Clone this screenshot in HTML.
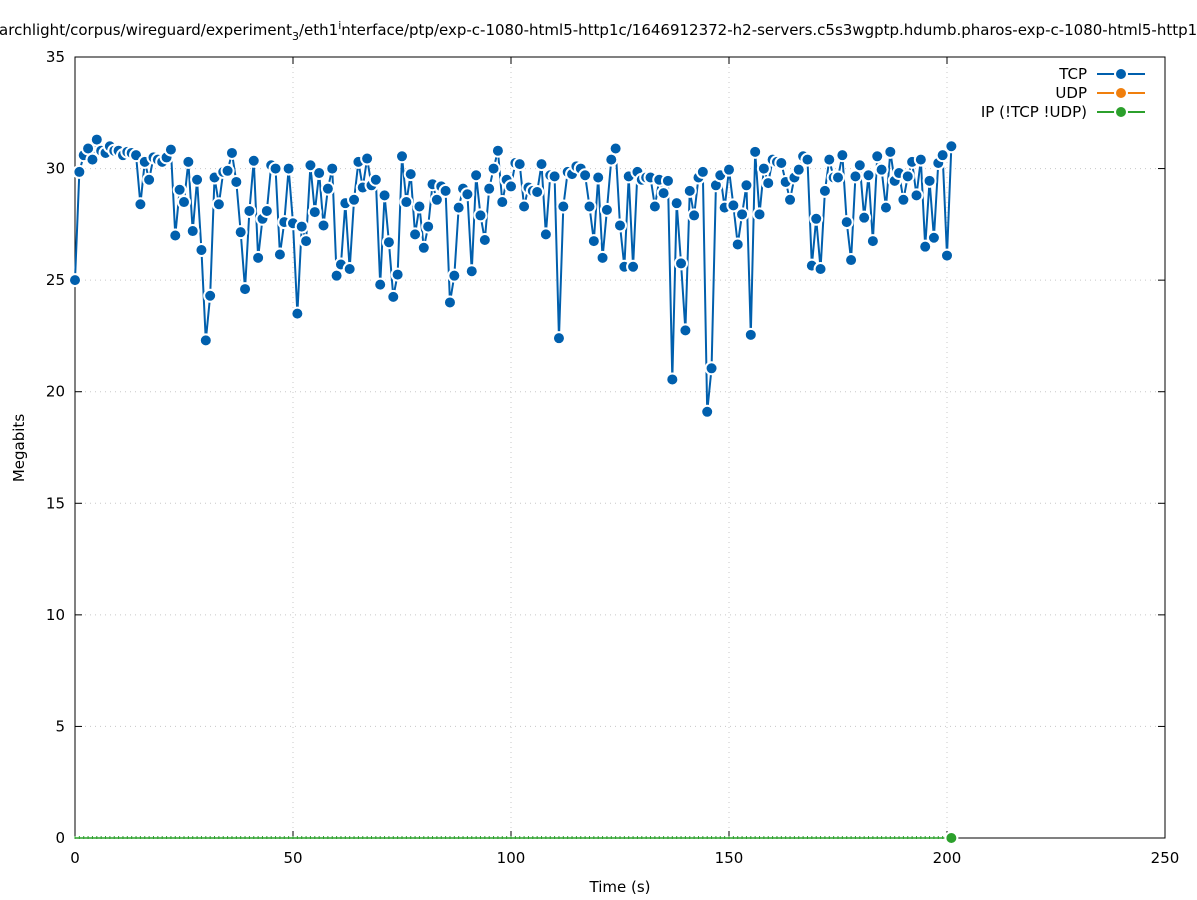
<!DOCTYPE html>
<html><head><meta charset="utf-8"><style>
html,body{margin:0;padding:0;background:#fff}
svg{display:block;font-family:"DejaVu Sans","Liberation Sans",sans-serif}
</style></head><body>
<svg id="chart" width="1197" height="900" viewBox="0 0 1197 900">
<rect width="1197" height="900" fill="#fff"/>
<text x="-18" y="35" font-size="15" fill="#000">searchlight/corpus/wireguard/experiment<tspan font-size="11" dy="5">3</tspan><tspan dy="-5">/eth1</tspan><tspan font-size="11" dy="-6">i</tspan><tspan dy="6">nterface/ptp/exp-c-1080-html5-http1c/1646912372-h2-servers.c5s3wgptp.hdumb.pharos-exp-c-1080-html5-http1c</tspan></text>
<g id="grid"></g>
<g id="axes"></g>
<g id="series"></g>
<text x="620" y="892" font-size="15" text-anchor="middle">Time (s)</text>
<text x="24" y="448" font-size="15" text-anchor="middle" transform="rotate(-90 24 448)">Megabits</text>
<g id="legend"></g>
</svg>
<script>
const xTicks=[0,50,100,150,200,250];
const yTicks=[0,5,10,15,20,25,30,35];
const tcpValues=[25.0,29.85,30.6,30.9,30.4,31.3,30.8,30.7,31.0,30.8,30.8,30.6,30.75,30.7,30.6,28.4,30.3,29.5,30.5,30.4,
30.3,30.5,30.85,27.0,29.05,28.5,30.3,27.2,29.5,26.35,22.3,24.3,29.6,28.4,29.85,29.9,30.7,29.4,27.15,24.6,
28.1,30.35,26.0,27.75,28.1,30.15,30.0,26.15,27.6,30.0,27.55,23.5,27.4,26.75,30.15,28.05,29.8,27.45,29.1,30.0,
25.2,25.7,28.45,25.5,28.6,30.3,29.15,30.45,29.25,29.5,24.8,28.8,26.7,24.25,25.25,30.55,28.5,29.75,27.05,28.3,
26.45,27.4,29.3,28.6,29.2,29.0,24.0,25.2,28.25,29.1,28.85,25.4,29.7,27.9,26.8,29.1,30.0,30.8,28.5,29.5,
29.2,30.25,30.2,28.3,29.15,29.0,28.95,30.2,27.05,29.7,29.65,22.4,28.3,29.85,29.75,30.1,30.0,29.7,28.3,26.75,
29.6,26.0,28.15,30.4,30.9,27.45,25.6,29.65,25.6,29.85,29.5,29.6,29.6,28.3,29.5,28.9,29.45,20.55,28.45,25.75,
22.75,29.0,27.9,29.6,29.85,19.1,21.05,29.25,29.7,28.25,29.95,28.35,26.6,27.95,29.25,22.55,30.75,27.95,30.0,29.35,
30.4,30.3,30.25,29.4,28.6,29.6,29.95,30.55,30.4,25.65,27.75,25.5,29.0,30.4,29.6,29.6,30.6,27.6,25.9,29.65,
30.15,27.8,29.7,26.75,30.55,29.95,28.25,30.75,29.45,29.8,28.6,29.65,30.3,28.8,30.4,26.5,29.45,26.9,30.25,30.6,26.1,31.0];
const ipValues=new Array(tcpValues.length).fill(0);
const seriesNames=["TCP","UDP","IP (!TCP  !UDP)"];
const seriesColors=["#005fad","#f07f0d","#2ca02c"];
const X0=75,X1=1165,Y0=838,Y1=57;
const sx=v=>X0+(v-0)/(250-0)*(X1-X0);
const sy=v=>Y0-(v-0)/(35-0)*(Y0-Y1);
const NS="http://www.w3.org/2000/svg";
function mk(parent,tag,attrs){const e=document.createElementNS(NS,tag);for(const k in attrs)e.setAttribute(k,attrs[k]);parent.appendChild(e);return e;}
const grid=document.getElementById('grid'),axes=document.getElementById('axes'),ser=document.getElementById('series'),leg=document.getElementById('legend');
xTicks.forEach(t=>{
  if(t>0&&t<250){const g=mk(grid,'line',{x1:sx(t),x2:sx(t),y1:Y1,y2:Y0,stroke:'#c8c8c8','stroke-dasharray':'1,4'});
  
  }
  mk(axes,'line',{x1:sx(t),x2:sx(t),y1:Y0,y2:Y0-7,stroke:'#000'});
  mk(axes,'line',{x1:sx(t),x2:sx(t),y1:Y1,y2:Y1+7,stroke:'#000'});
  const l=mk(axes,'text',{x:sx(t),y:Y0+25,'font-size':15,'text-anchor':'middle'});l.textContent=t;
  
  
});
yTicks.forEach(t=>{
  if(t>0&&t<35){const g=mk(grid,'line',{x1:X0,x2:X1,y1:sy(t),y2:sy(t),stroke:'#c8c8c8','stroke-dasharray':'1,4'});
  
  }
  mk(axes,'line',{x1:X0,x2:X0+7,y1:sy(t),y2:sy(t),stroke:'#000'});
  mk(axes,'line',{x1:X1,x2:X1-7,y1:sy(t),y2:sy(t),stroke:'#000'});
  const l=mk(axes,'text',{x:X0-10,y:sy(t)+5,'font-size':15,'text-anchor':'end'});l.textContent=t;
  
  
});
const frame=mk(axes,'rect',{x:X0,y:Y1,width:X1-X0,height:Y0-Y1,fill:'none',stroke:'#000'});


const ipPts=ipValues.map((v,i)=>sx(i)+','+sy(v)).join(' ');
const ipl=mk(ser,'polyline',{points:ipPts,fill:'none',stroke:seriesColors[2],'stroke-width':1.5});


ipValues.forEach((v,i)=>{const t=mk(ser,'line',{x1:sx(i),x2:sx(i),y1:sy(v)-2,y2:sy(v)+1,stroke:seriesColors[2],'stroke-width':1});
  
  });
const pts=tcpValues.map((v,i)=>sx(i)+','+sy(v)).join(' ');
const tl=mk(ser,'polyline',{points:pts,fill:'none',stroke:seriesColors[0],'stroke-width':2});


tcpValues.forEach((v,i)=>{const c=mk(ser,'circle',{cx:sx(i),cy:sy(v),r:6,fill:seriesColors[0],stroke:'#fff','stroke-width':2});
  
  });
const last=ipValues.length-1;
const ipd=mk(ser,'circle',{cx:sx(last),cy:sy(ipValues[last]),r:6,fill:seriesColors[2],stroke:'#fff','stroke-width':2});


seriesNames.forEach((n,i)=>{
  const y=74+i*19;
  const g=mk(leg,'g',{});
  
  
  const t=mk(g,'text',{x:1087,y:y+5,'font-size':15,'text-anchor':'end'});t.textContent=n;
  mk(g,'line',{x1:1097,x2:1145,y1:y,y2:y,stroke:seriesColors[i],'stroke-width':2});
  mk(g,'circle',{cx:1121,cy:y,r:6,fill:seriesColors[i],stroke:'#fff','stroke-width':2});
});
</script>
</body></html>
